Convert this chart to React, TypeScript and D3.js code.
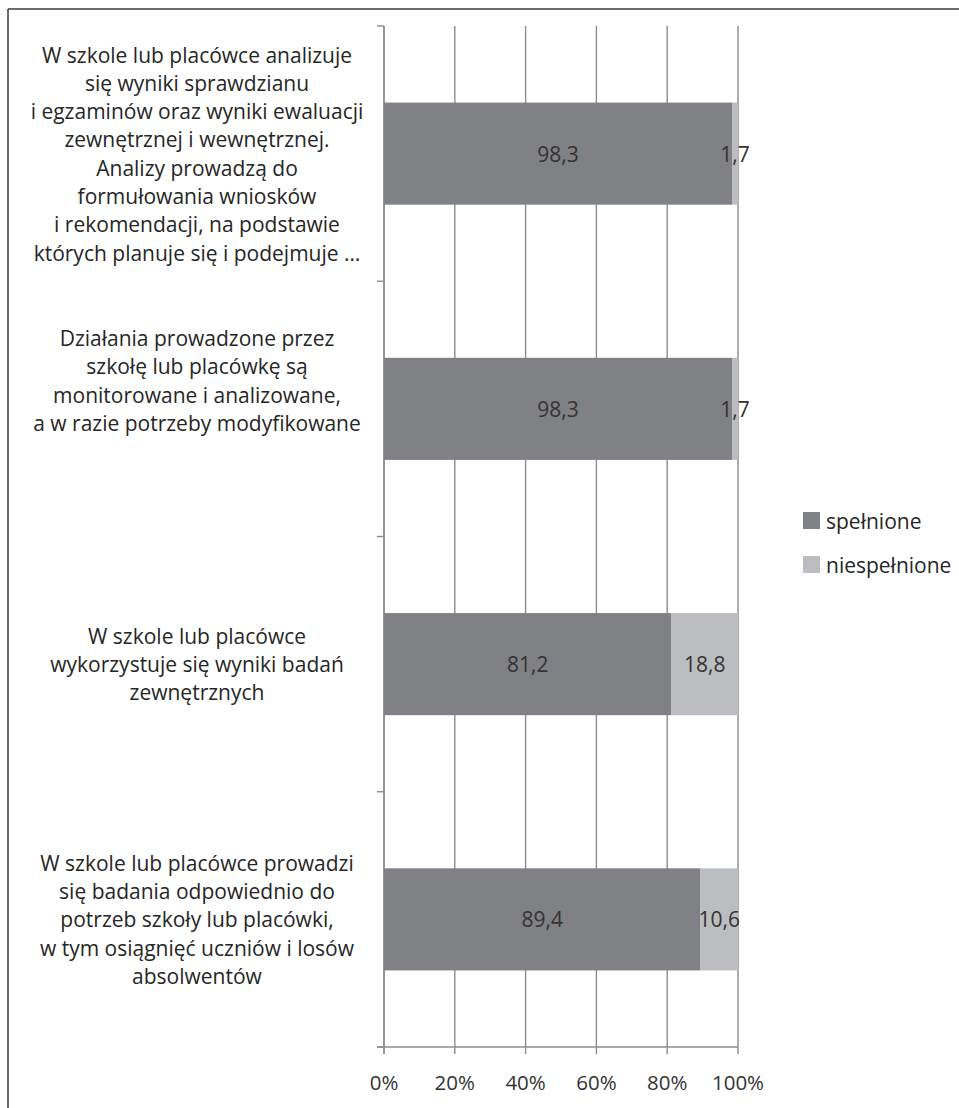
import React from "react";
import * as d3 from "d3";

const categories: string[][] = [
  [
    "W szkole lub placówce analizuje",
    "się wyniki sprawdzianu",
    "i egzaminów oraz wyniki ewaluacji",
    "zewnętrznej i wewnętrznej.",
    "Analizy prowadzą do",
    "formułowania wniosków",
    "i rekomendacji, na podstawie",
    "których planuje się i podejmuje …",
  ],
  [
    "Działania prowadzone przez",
    "szkołę lub placówkę są",
    "monitorowane i analizowane,",
    "a w razie potrzeby modyfikowane",
    "",
    "",
  ],
  [
    "W szkole lub placówce",
    "wykorzystuje się wyniki badań",
    "zewnętrznych",
  ],
  [
    "W szkole lub placówce prowadzi",
    "się badania odpowiednio do",
    "potrzeb szkoły lub placówki,",
    "w tym osiągnięć uczniów i losów",
    "absolwentów",
  ],
];

const spelnione: number[] = [98.3, 98.3, 81.2, 89.4];
const niespelnione: number[] = [1.7, 1.7, 18.8, 10.6];
const seriesNames: string[] = ["spełnione", "niespełnione"];
const seriesColors: string[] = ["#808184", "#bcbdc0"];
const xTicks: number[] = [0, 0.2, 0.4, 0.6, 0.8, 1];

const W = 959;
const H = 1108;
const FONT = "'Open Sans', Lato, sans-serif";
const FS = 21;

export default function App() {
  const x = d3.scaleLinear().domain([0, 1]).range([384, 738]);
  const idx = categories.map((_, i) => String(i));
  const y = d3
    .scaleBand<string>()
    .domain(idx)
    .range([26, 1047])
    .paddingInner(0.6)
    .paddingOuter(0.3);
  const step = y.step();
  const top = 26;
  const bottom = 1047;
  const fmt = (v: number) => v.toFixed(1).replace(".", ",");
  const lineH = 28.3;
  const boundaries = d3.range(categories.length + 1).map((i) => top + i * step);
  const gridColor = "#8c8c8c";

  return (
    <svg
      width={W}
      height={H}
      style={{ position: "absolute", left: 0, top: 0, background: "#fff" }}
      fontFamily={FONT}
    >
      {/* frame */}
      <line x1={8} y1={9} x2={W} y2={9} stroke="#3a3a3a" strokeWidth={1.5} />
      <line x1={8} y1={9} x2={8} y2={H} stroke="#3a3a3a" strokeWidth={1.5} />

      {/* gridlines */}
      {xTicks.map((t) => (
        <line
          key={"g" + t}
          x1={x(t)}
          x2={x(t)}
          y1={top}
          y2={bottom + 7}
          stroke={gridColor}
          strokeWidth={1.4}
        />
      ))}
      {/* category axis */}
      <line x1={x(0)} x2={x(0)} y1={top} y2={bottom + 7} stroke={gridColor} strokeWidth={1.4} />
      {boundaries.map((b, i) => (
        <line key={"ct" + i} x1={x(0) - 7} x2={x(0)} y1={b} y2={b} stroke={gridColor} strokeWidth={1.4} />
      ))}
      {/* x axis */}
      <line x1={x(0) - 7} x2={x(1)} y1={bottom} y2={bottom} stroke={gridColor} strokeWidth={1.4} />

      {/* bars */}
      {categories.map((_, i) => {
        const y0 = y(String(i)) as number;
        const bh = y.bandwidth();
        const a = spelnione[i] / 100;
        const b = niespelnione[i] / 100;
        return (
          <g key={"b" + i}>
            <rect x={x(0)} y={y0} width={x(a) - x(0)} height={bh} fill={seriesColors[0]} />
            <rect x={x(a)} y={y0} width={x(a + b) - x(a)} height={bh} fill={seriesColors[1]} />
            <text
              x={(x(0) + x(a)) / 2}
              y={y0 + bh / 2}
              textAnchor="middle"
              dominantBaseline="central"
              fontSize={FS}
              fill="#333"
            >
              {fmt(spelnione[i])}
            </text>
            <text
              x={(x(a) + x(a + b)) / 2}
              y={y0 + bh / 2}
              textAnchor="middle"
              dominantBaseline="central"
              fontSize={FS}
              fill="#333"
            >
              {fmt(niespelnione[i])}
            </text>
          </g>
        );
      })}

      {/* category labels */}
      {categories.map((lines, i) => {
        const cy = (y(String(i)) as number) + y.bandwidth() / 2;
        const n = lines.length;
        return (
          <text key={"l" + i} fontSize={FS} fill="#262626" textAnchor="middle">
            {lines.map((ln, j) => (
              <tspan
                key={j}
                x={197}
                y={cy + (j - (n - 1) / 2) * lineH}
                dominantBaseline="central"
              >
                {ln}
              </tspan>
            ))}
          </text>
        );
      })}

      {/* x tick labels */}
      {xTicks.map((t) => (
        <text
          key={"t" + t}
          x={x(t)}
          y={1082}
          textAnchor="middle"
          dominantBaseline="central"
          fontSize={20.5}
          fill="#333"
        >
          {d3.format(".0%")(t)}
        </text>
      ))}

      {/* legend */}
      {seriesNames.map((s, i) => (
        <g key={"lg" + i} transform={`translate(803, ${512 + i * 44})`}>
          <rect x={0} y={0} width={17} height={17} fill={seriesColors[i]} />
          <text x={23} y={9} dominantBaseline="central" fontSize={FS} fill="#262626">
            {s}
          </text>
        </g>
      ))}
    </svg>
  );
}
